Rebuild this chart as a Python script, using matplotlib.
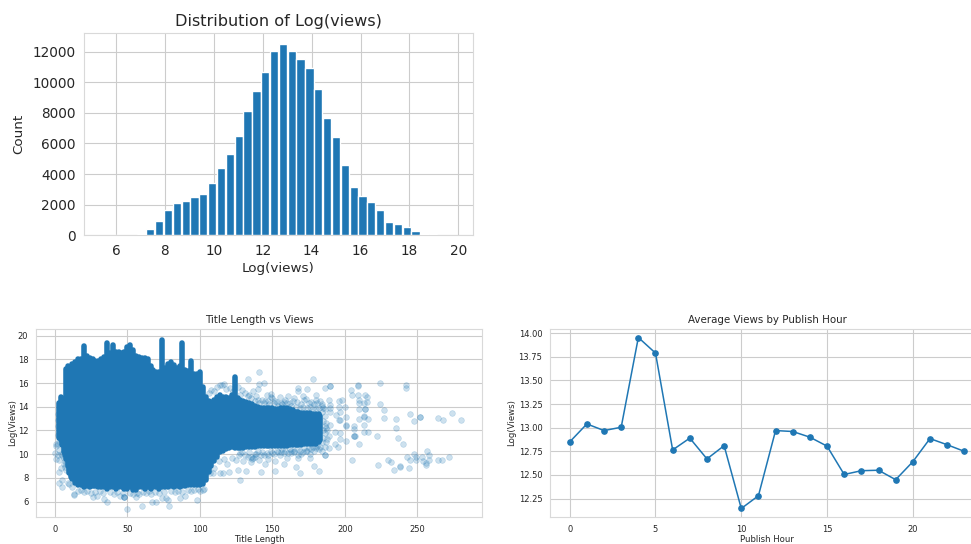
import numpy as np
import matplotlib
matplotlib.use("Agg")
import matplotlib.pyplot as plt
import seaborn as sns

sns.set_style("whitegrid")

#=== histogram: 40 bins ===
hist_edges = np.linspace(5.41, 19.88, 41)
hist_counts = [1, 2, 4, 20, 100, 400, 950, 1680, 2130, 2260, 2520, 2680, 3420, 4420, 5300, 6500,
               8130, 9400, 10700, 12030, 12480, 12030, 11520, 10950, 9550, 7650, 6450, 4570,
               3180, 2600, 2180, 1630, 850, 720, 550, 250, 70, 60, 8, 3]

#=== title length: solid core read as columns (length, lowest, highest) ===
core_columns = [
    (3, 11.4, 14.3), (4, 11.2, 14.8), (5, 10.8, 14.7), (6, 10.2, 14.5), (7, 9.9, 14.5),
    (8, 9.6, 17.2), (9, 9.0, 17.4), (10, 8.4, 17.3), (11, 8.1, 16.9), (12, 7.9, 17.6), (14, 7.6, 17.8),
    (16, 7.4, 18.0), (18, 7.4, 18.0), (20, 7.2, 19.1), (22, 7.3, 18.3), (24, 7.2, 18.1), (26, 7.3, 18.0),
    (28, 7.3, 17.9), (30, 7.2, 17.9), (32, 7.2, 18.0), (34, 7.2, 18.2), (36, 7.1, 19.4), (38, 7.2, 18.5),
    (40, 7.2, 19.2), (42, 7.1, 18.6), (44, 7.2, 18.6), (46, 7.2, 18.5), (48, 7.1, 18.6), (50, 7.1, 19.0),
    (52, 7.2, 19.2), (54, 7.0, 18.8), (56, 7.0, 18.3), (58, 7.2, 18.2), (60, 7.2, 18.1), (62, 7.1, 18.1),
    (64, 7.2, 18.0), (66, 7.1, 17.4), (68, 7.2, 17.1), (70, 7.2, 16.9), (72, 7.1, 16.9), (74, 7.2, 19.6),
    (76, 7.2, 17.3), (78, 7.2, 17.6), (80, 7.3, 17.8), (82, 7.2, 17.5), (84, 7.3, 17.3), (86, 7.2, 17.4),
    (88, 7.3, 19.4), (90, 7.3, 17.1), (92, 7.4, 17.0), (94, 7.4, 17.9), (96, 7.4, 16.8), (98, 7.4, 16.8),
    (100, 7.4, 16.9), (102, 7.5, 15.7), (104, 7.8, 14.8), (106, 8.5, 14.5), (108, 9.0, 14.4), (110, 9.4, 14.6),
    (112, 9.8, 14.8), (114, 10.2, 15.0), (116, 10.3, 14.8), (118, 10.4, 14.8), (120, 10.5, 14.7),
    (122, 10.6, 15.0), (124, 10.5, 16.5), (126, 10.5, 14.7), (128, 10.5, 14.6), (130, 10.5, 14.5),
    (132, 10.6, 14.4), (134, 10.6, 14.3), (136, 10.6, 14.2), (138, 10.6, 14.1), (140, 10.7, 14.0),
    (142, 10.7, 13.9), (144, 10.7, 13.9), (146, 10.7, 13.9), (148, 10.7, 13.9), (150, 10.7, 13.9),
    (152, 10.7, 13.8), (154, 10.7, 13.8), (156, 10.7, 13.9), (158, 10.7, 13.9), (160, 10.7, 13.9),
    (162, 10.8, 13.8), (164, 10.8, 13.7), (166, 10.8, 13.6), (168, 10.8, 13.6), (170, 10.8, 13.5),
    (172, 10.9, 13.5), (174, 10.9, 13.5), (176, 10.9, 13.5), (178, 10.9, 13.4), (180, 10.9, 13.4),
    (182, 11.0, 13.4), (183, 11.2, 13.2),
]

#=== title length: single points around the core ===
sparse_points = [
    (141, 16.9), (133, 16.3), (144, 16.0), (141, 15.9), (140, 15.5), (178, 16.3), (190, 15.75), (190, 15.75),
    (186, 15.55), (168, 15.55), (168, 15.3), (174, 15.5), (149, 15.1), (149, 14.85), (180, 15.0), (180, 14.6),
    (171, 14.9), (173, 14.65), (209, 15.85), (209, 15.75), (204, 15.4), (205, 15.0), (209, 15.0), (224, 16.0),
    (242, 15.85), (242, 15.55), (214, 15.0), (215, 14.8), (210, 14.6), (215, 14.4), (224, 14.2), (227, 13.75),
    (245, 13.35), (248, 12.8), (252, 13.1), (252, 13.1), (227, 13.05), (235, 12.95), (235, 12.25), (264, 13.05),
    (268, 12.9), (274, 13.45), (280, 12.9), (222, 11.55), (237, 11.35), (240, 10.9), (205, 9.5), (223, 9.05),
    (230, 9.55), (232, 9.3), (234, 8.65), (238, 9.0), (238, 8.95), (244, 8.8), (243, 9.75), (245, 9.5),
    (248, 10.0), (249, 9.55), (249, 9.75), (253, 9.75), (254, 9.45), (256, 9.1), (257, 10.25), (258, 9.9),
    (258, 9.5), (264, 9.5), (267, 9.5), (272, 9.8), (256, 9.25),
    # cluster 190-215
    (200, 14.0), (198, 14.6), (196, 14.45), (196, 14.0), (197, 13.6), (197, 12.9), (201, 13.1), (201, 12.4),
    (201, 12.45), (206, 12.4), (206, 12.1), (206, 11.5), (206, 11.55), (207, 11.5), (210, 10.85), (201, 11.1),
    (197, 11.25), (197, 11.75), (210, 13.8), (214, 13.8), (214, 13.85), (213, 13.15), (213, 13.2), (216, 13.0),
    (210, 13.0), (213, 12.45), (213, 11.9), (216, 11.9), (210, 14.3), (213, 14.3), (190, 13.9), (190, 13.6),
    (189, 14.6), (190, 14.15), (194, 13.3), (196, 12.9), (193, 11.9), (189, 11.5), (193, 10.9), (195, 10.6),
    (189, 10.5), (186, 9.9), (186, 9.95), (190, 12.45),
    # lower fringe, right part
    (179, 9.0), (182, 8.55), (166, 8.95), (169, 8.45), (152, 8.6), (142, 8.5), (132, 8.55), (128, 7.8),
    (145, 9.2), (158, 9.2), (168, 9.65), (176, 9.65), (135, 9.3), (138, 9.8),
    # lower fringe, left block
    (50, 5.4), (60, 5.65), (79, 5.65), (98, 6.15), (86, 6.3), (78, 6.15), (67, 6.0), (70, 5.95), (77, 6.3),
    (74, 6.3), (48, 6.35), (48, 6.35), (48, 6.4), (36, 5.95), (34, 6.2), (26, 6.35), (29, 6.5), (13, 6.55),
    (13, 6.6), (5, 7.2), (3, 7.55), (5, 7.85), (3, 8.5), (4, 8.85), (1, 9.6), (0, 10.1), (1, 10.65), (3, 10.35),
    (9, 7.55), (56, 6.4), (90, 6.5), (66, 6.6), (103, 7.05), (107, 8.4), (109, 8.4), (114, 8.45), (120, 8.5),
    (116, 8.4), (126, 8.7), (114, 15.85), (117, 15.9), (2, 9.9), (3, 9.5), (2, 13.4), (4, 10.0), (6, 9.2),
    (8, 8.7), (8, 9.2), (10, 7.5), (12, 7.2), (20, 6.8), (25, 6.7), (33, 6.7), (41, 6.6), (45, 6.5), (58, 6.6),
    (63, 6.7), (72, 6.7), (83, 6.8), (88, 6.8), (94, 6.9), (100, 6.9), (102, 7.0),
    (16, 6.9), (18, 7.0), (22, 6.9), (28, 6.8), (31, 6.9), (38, 6.8), (43, 6.8), (47, 6.7), (52, 6.7), (54, 6.6),
    (57, 6.7), (61, 6.8), (65, 6.9), (69, 6.8), (75, 6.8), (80, 6.9), (85, 6.9), (92, 7.0), (96, 7.0), (99, 7.1),
    (2, 10.9), (2, 11.6), (2, 12.4), (3, 13.0), (3, 11.1), (2, 12.9), (1, 10.9), (5, 9.9), (6, 9.7), (7, 8.9), (7, 9.4),
    # upper fringe 105-185
    (106, 15.2), (108, 15.4), (110, 15.3), (112, 15.7), (115, 15.8), (118, 15.5), (121, 15.6), (123, 15.3),
    (126, 15.7), (129, 15.4), (131, 15.2), (134, 15.0), (137, 15.3), (139, 14.9), (143, 14.6), (146, 15.0),
    (147, 14.5), (150, 14.7), (153, 14.4), (155, 14.8), (156, 14.3), (159, 14.6), (161, 14.9), (162, 14.3),
    (164, 14.5), (165, 14.7), (167, 14.4), (170, 14.2), (172, 14.6), (175, 14.3), (177, 14.4), (179, 14.2),
    (181, 14.3), (183, 14.5), (184, 14.1), (185, 13.9), (184, 14.2), (186, 13.8),
    (135, 14.7), (138, 14.5), (141, 14.3), (144, 14.3), (148, 14.2), (151, 14.3), (154, 14.1), (157, 14.2),
    (160, 14.3), (163, 14.1), (166, 14.0), (169, 13.9), (171, 14.0), (174, 13.9), (176, 14.0), (178, 13.9),
    (180, 13.8), (182, 13.9), (152, 14.5), (158, 14.4), (145, 14.5), (140, 14.6), (133, 14.9), (128, 15.0),
    # lower fringe 105-188
    (104, 8.9), (107, 9.3), (110, 8.8), (113, 9.4), (117, 9.6), (119, 9.2), (122, 9.7), (125, 9.5), (127, 9.9),
    (130, 9.4), (133, 9.8), (136, 9.6), (139, 10.0), (141, 9.5), (144, 9.9), (147, 9.6), (150, 10.1), (152, 9.4),
    (155, 9.9), (158, 10.1), (160, 9.7), (163, 10.1), (165, 10.2), (168, 9.9), (171, 10.2), (173, 10.3),
    (176, 10.0), (179, 10.3), (182, 10.4), (184, 10.3), (186, 10.6), (187, 11.0), (188, 11.3), (185, 12.0),
    (187, 12.6), (186, 13.2), (128, 10.1), (131, 9.9), (135, 9.8), (138, 10.0), (142, 9.9), (146, 10.1),
    (151, 10.0), (156, 10.2), (161, 10.1), (165, 10.3), (170, 10.0), (174, 10.3), (177, 10.4), (183, 10.6),
    (137, 9.7), (147, 9.9), (154, 10.2), (163, 10.3),
    (129, 10.2), (134, 10.2), (140, 10.3), (143, 10.2), (149, 10.3), (153, 10.3), (157, 10.4), (159, 10.3),
    (162, 10.4), (167, 10.4), (169, 10.3), (172, 10.5), (175, 10.5), (178, 10.6), (180, 10.5), (181, 10.7),
    (184, 11.0), (185, 11.4), (186, 11.8), (187, 12.2), (185, 12.8), (184, 13.6), (186, 12.4), (188, 12.0),
]

#=== publish hour ===
hours = list(range(24))
hour_views = [12.85, 13.04, 12.97, 13.005, 13.955, 13.79, 12.765, 12.89, 12.67, 12.81, 12.145, 12.28,
              12.97, 12.96, 12.90, 12.805, 12.505, 12.545, 12.55, 12.45, 12.64, 12.885, 12.82, 12.75]

blue = "#1f77b4"
W, H = 971, 544


def px_axes(fig, left, top, right, bottom):
    return fig.add_axes([left / W, 1 - bottom / H, (right - left) / W, (bottom - top) / H])


fig = plt.figure(figsize=(W / 100, H / 100), dpi=100)

#=== oben links ===
ax1 = px_axes(fig, 84, 33.3, 473, 235.3)
ax1.bar((hist_edges[:-1] + hist_edges[1:]) / 2, hist_counts, width=np.diff(hist_edges) * 0.93,
        color=blue, zorder=4)
ax1.set_xlim(4.69, 20.6)
ax1.set_ylim(0, 13200)
ax1.set_xticks(range(6, 21, 2))
ax1.set_title("Distribution of Log(views)", fontsize=11.65, color=".15", pad=5.5)
ax1.set_xlabel("Log(views)", fontsize=9.7, color=".15", labelpad=3.5)
ax1.set_ylabel("Count", fontsize=9.7, color=".15", labelpad=5.5)
ax1.tick_params(labelsize=9.8, pad=2.5)

#=== unten links ===
ax2 = px_axes(fig, 36, 329, 482, 517)
core_len, core_low, core_high = zip(*core_columns)
sparse_len, sparse_views = zip(*sparse_points)
ax2.vlines(core_len, core_low, core_high, color=blue, linewidth=4, capstyle="round", zorder=3)
ax2.scatter(sparse_len, sparse_views, s=17, color=blue, alpha=0.22, linewidths=0.5, zorder=3)
ax2.set_xlim(-13, 294.6)
ax2.set_ylim(4.7, 20.56)
ax2.set_xticks(range(0, 251, 50))
ax2.set_yticks(range(6, 21, 2))
ax2.set_title("Title Length vs Views", fontsize=7.35, color=".15", pad=4)
ax2.set_xlabel("Title Length", fontsize=6.1, color=".15", labelpad=1)
ax2.set_ylabel("Log(Views)", fontsize=6.1, color=".15", labelpad=0.5)
ax2.tick_params(labelsize=6, pad=2)

#=== unten rechts, laeuft ueber den Bildrand hinaus ===
ax3 = px_axes(fig, 550, 329, 984, 517)
ax3.plot(hours, hour_views, color=blue, linewidth=1.1, marker="o", markersize=3.8)
ax3.set_xlim(-1.15, 24.15)
ax3.set_ylim(12.055, 14.045)
ax3.set_xticks(range(0, 21, 5))
ax3.set_yticks(np.arange(12.25, 14.01, 0.25))
ax3.set_yticklabels(["12.25", "12.50", "12.75", "13.00", "13.25", "13.50", "13.75", "14.00"])
ax3.set_title("Average Views by Publish Hour", fontsize=7.4, color=".15", pad=4)
ax3.set_xlabel("Publish Hour", fontsize=6.1, color=".15", labelpad=1)
ax3.set_ylabel("Log(Views)", fontsize=6.1, color=".15", labelpad=1.5)
ax3.tick_params(labelsize=6, pad=2)

for ax in (ax1, ax2, ax3):
    ax.grid(True, color=".8", linewidth=0.8)
    ax.set_axisbelow(True)
    for s in ax.spines.values():
        s.set_color(".85")
        s.set_linewidth(0.8)

fig.savefig("out.png", dpi=100)
